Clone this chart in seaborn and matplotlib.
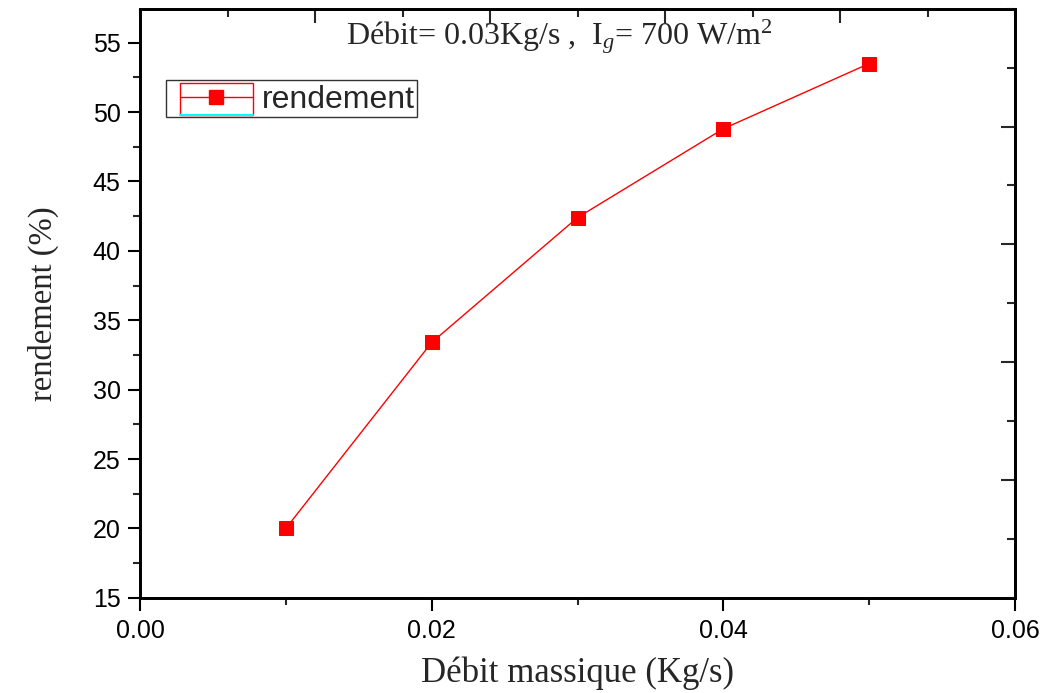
import matplotlib
matplotlib.use("Agg")
import matplotlib.pyplot as plt
import seaborn as sns
import pandas as pd
from matplotlib.legend_handler import HandlerBase
from matplotlib.patches import Rectangle
from matplotlib.lines import Line2D
from matplotlib.ticker import MultipleLocator

# Data
debit = [0.01, 0.02, 0.03, 0.04, 0.05]
rendement = [20.0, 33.4, 42.4, 48.8, 53.5]
x_ticks = [0.00, 0.02, 0.04, 0.06]
x_tick_labels = ["0.00", "0.02", "0.04", "0.06"]
y_ticks = [15, 20, 25, 30, 35, 40, 45, 50, 55]

sns.set_style("ticks")
plt.rcParams["font.family"] = ["Liberation Sans", "DejaVu Sans"]
plt.rcParams["mathtext.fontset"] = "custom"
plt.rcParams["mathtext.rm"] = "Liberation Serif"
plt.rcParams["mathtext.it"] = "Liberation Serif:italic"

df = pd.DataFrame({"debit": debit, "rendement": rendement})

fig = plt.figure(figsize=(10.45, 6.93), dpi=100)
ax = fig.add_axes([0.134, 0.1374, 0.8373, 0.85])

sns.lineplot(data=df, x="debit", y="rendement", ax=ax, color="red",
             marker="s", markersize=10, markeredgecolor="red", linewidth=1,
             label="rendement")

ax.set_xlim(0, 0.06)
ax.set_ylim(15, 57.45)
ax.set_xticks(x_ticks)
ax.set_xticklabels(x_tick_labels)
ax.set_yticks(y_ticks)
ax.xaxis.set_minor_locator(MultipleLocator(0.01))
ax.yaxis.set_minor_locator(MultipleLocator(2.5))
ax.tick_params(axis="both", which="major", direction="out", length=9, width=1.5,
               labelsize=18, colors="black")
ax.tick_params(axis="both", which="minor", direction="out", length=5, width=1.5)
ax.tick_params(axis="x", pad=6)
ax.tick_params(axis="y", pad=5)
for s in ax.spines.values():
    s.set_linewidth(1.8)
    s.set_color("black")

ax.set_xlabel("Débit massique (Kg/s)", family=["Liberation Serif"], fontsize=25, labelpad=10)
ax.set_ylabel("rendement (%)", family=["Liberation Serif"], fontsize=23.5, labelpad=24)

# Top axis (independent ticks, inward)
axt = ax.twiny()
axt.set_xlim(0, 1)
axt.xaxis.set_minor_locator(MultipleLocator(0.1))
axt.set_xticks([0.2, 0.4, 0.6, 0.8])
axt.set_xticklabels([])
axt.tick_params(axis="x", which="major", direction="in", length=10, width=1.5, labeltop=False)
axt.tick_params(axis="x", which="minor", direction="in", length=6, width=1.5)
axt.yaxis.set_visible(False)

# Right axis (independent ticks, inward)
axr = ax.twinx()
axr.set_ylim(0, 1)
axr.yaxis.set_minor_locator(MultipleLocator(0.1))
axr.set_yticks([0.2, 0.4, 0.6, 0.8])
axr.set_yticklabels([])
axr.tick_params(axis="y", which="major", direction="in", length=10, width=1.5)
axr.tick_params(axis="y", which="minor", direction="in", length=6, width=1.5)
for a in (axt, axr):
    for s in a.spines.values():
        s.set_linewidth(1.8)
        s.set_color("black")

# Annotation
ax.text(0.4794, 0.9385, "Débit= 0.03Kg/s ,  I$_g$= 700 W/m$^2$", transform=ax.transAxes,
        ha="center", va="baseline", family=["Liberation Serif"], fontsize=23)


class BoxedHandler(HandlerBase):
    def create_artists(self, legend, orig_handle, xdescent, ydescent, width, height,
                       fontsize, trans):
        x0, y0 = -xdescent, -ydescent
        off = 0.37 * fontsize
        rx0, rx1 = x0 + off, x0 + width
        pad_b = 0.12 * fontsize
        rect = Rectangle((rx0, y0 - pad_b), rx1 - rx0, height + pad_b, fill=False,
                         edgecolor="red", linewidth=1, transform=trans)
        ym = y0 + height / 2
        line = Line2D([rx0, rx1], [ym, ym], color="red", linewidth=1, transform=trans)
        mk = Line2D([(rx0 + rx1) / 2], [ym], marker="s", markersize=10, color="red",
                    linestyle="None", transform=trans)
        cy = Line2D([rx0, rx1], [y0 - pad_b, y0 - pad_b], color="cyan",
                    linewidth=1.5, transform=trans)
        return [rect, line, mk, cy]


handles, labels = ax.get_legend_handles_labels()
if ax.get_legend() is not None:
    ax.get_legend().remove()
leg = axr.legend(handles, labels, handler_map={type(handles[0]): BoxedHandler()},
                 loc="upper left", bbox_to_anchor=(0.0297, 0.879), bbox_transform=ax.transAxes,
                 fancybox=False, frameon=True, edgecolor="black",
                 handlelength=2.63, handleheight=1.0, borderpad=0.08, borderaxespad=0,
                 handletextpad=0.28, prop={"family": "Liberation Sans", "size": 23})
leg.get_frame().set_linewidth(1)

fig.savefig("out.png", dpi=100)
